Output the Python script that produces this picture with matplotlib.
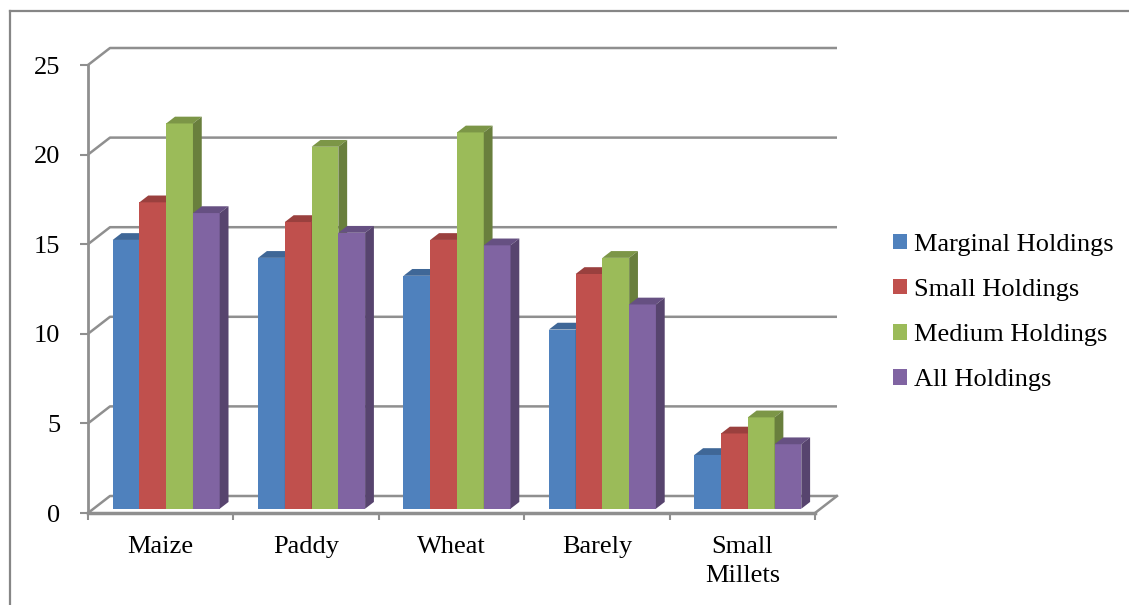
import matplotlib
matplotlib.use("Agg")
import matplotlib.pyplot as plt
from matplotlib.patches import Polygon
from matplotlib.lines import Line2D
from matplotlib.colors import to_rgb

# ---- data -------------------------------------------------------------
crops = ["Maize", "Paddy", "Wheat", "Barely", "Small\nMillets"]
series = ["Marginal Holdings", "Small Holdings", "Medium Holdings", "All Holdings"]
marginal = [15.0, 14.0, 13.0, 10.0, 3.0]
small = [17.1, 16.0, 15.0, 13.1, 4.2]
medium = [21.5, 20.2, 21.0, 14.0, 5.1]
all_holdings = [16.5, 15.4, 14.7, 11.4, 3.6]
values = [marginal, small, medium, all_holdings]
colors = ["#4F81BD", "#C0504D", "#9BBB59", "#8064A2"]
yticks = [0, 5, 10, 15, 20, 25]

# ---- style ------------------------------------------------------------
plt.rcParams["font.family"] = ["Liberation Serif", "DejaVu Serif"]
GRID = "#8f8f8f"
FS = 19

W, H = 1129, 605
fig = plt.figure(figsize=(W / 100, H / 100), dpi=100)
fig.patch.set_facecolor("white")
ax = fig.add_axes([88 / W, 1 - 513 / H, 727 / W, 448 / H])
ax.set_xlim(0, len(crops))
ax.set_ylim(0, 25)
ax.patch.set_alpha(0)

# depth of the pseudo-3D box (in data units)
DX = 22 / 145.4
DY = 17 / 17.92
F0 = 0.25    # depth of bar front faces
BD = 0.40    # bar depth as fraction of the box depth

n = len(crops)
# walls: side-wall diagonals plus back-wall gridlines
for v in yticks:
    ax.plot([0, DX, n + DX], [v, v + DY, v + DY], color=GRID, lw=1.8,
            clip_on=False, zorder=1, solid_capstyle="butt")
# right edge of the floor
ax.plot([n, n + DX], [0, DY], color=GRID, lw=1.8, clip_on=False, zorder=1)

# ---- bars -------------------------------------------------------------
def shade(c, f):
    r, g, b = to_rgb(c)
    return (r * f, g * f, b * f)

nser = len(series)
group = 0.736
w = group / nser
margin = (1 - group) / 2
base = F0 * DY
bdx, bdy = BD * DX, BD * DY

handles = []
for j, (vals, c) in enumerate(zip(values, colors)):
    lefts = [i + margin + j * w + F0 * DX for i in range(n)]
    bars = ax.bar(lefts, vals, width=w, bottom=base, align="edge",
                  color=c, linewidth=0, zorder=10 + 3 * j, clip_on=False,
                  label=series[j])
    handles.append(bars)
    for x0, v in zip(lefts, vals):
        top = base + v
        x1 = x0 + w
        ax.add_patch(Polygon([(x0, top), (x1, top), (x1 + bdx, top + bdy),
                              (x0 + bdx, top + bdy)], closed=True,
                             facecolor=shade(c, 0.80), edgecolor="none",
                             zorder=11 + 3 * j, clip_on=False))
        ax.add_patch(Polygon([(x1, base), (x1, top), (x1 + bdx, top + bdy),
                              (x1 + bdx, base + bdy)], closed=True,
                             facecolor=shade(c, 0.68), edgecolor="none",
                             zorder=11 + 3 * j, clip_on=False))

# ---- axes -------------------------------------------------------------
for s in ("top", "right"):
    ax.spines[s].set_visible(False)
ax.spines["left"].set_color(GRID)
ax.spines["left"].set_linewidth(2)
ax.spines["bottom"].set_color(GRID)
ax.spines["bottom"].set_linewidth(2.5)
ax.spines["left"].set_zorder(2)
ax.spines["bottom"].set_zorder(2)

ax.set_yticks(yticks)
ax.set_yticklabels([str(t) for t in yticks])
ax.tick_params(axis="y", direction="out", length=6, width=1.5, color=GRID,
               pad=14, labelsize=FS)
ax.set_xticks(range(n + 1))
ax.set_xticklabels([""] * (n + 1))
ax.tick_params(axis="x", direction="out", length=5, width=1.5, color=GRID)

for i, name in enumerate(crops):
    ax.text(i + 0.5, -1.28, name, ha="center", va="top", fontsize=FS,
            linespacing=1.42)

# ---- legend -----------------------------------------------------------
fig.legend(handles=handles, loc="center left",
           bbox_to_anchor=(893 / W, 1 - 312.5 / H),
           bbox_transform=fig.transFigure, frameon=False, fontsize=FS,
           handlelength=0.53, handleheight=0.53, handletextpad=0.25,
           labelspacing=0.87, borderpad=0, borderaxespad=0)

# ---- outer frame ------------------------------------------------------
fig.add_artist(Line2D([10 / W, 1], [1 - 11 / H, 1 - 11 / H],
                      transform=fig.transFigure, color="#868686", lw=1.6))
fig.add_artist(Line2D([10 / W, 10 / W], [0, 1 - 11 / H],
                      transform=fig.transFigure, color="#868686", lw=1.6))

fig.savefig("out.png", dpi=100)
